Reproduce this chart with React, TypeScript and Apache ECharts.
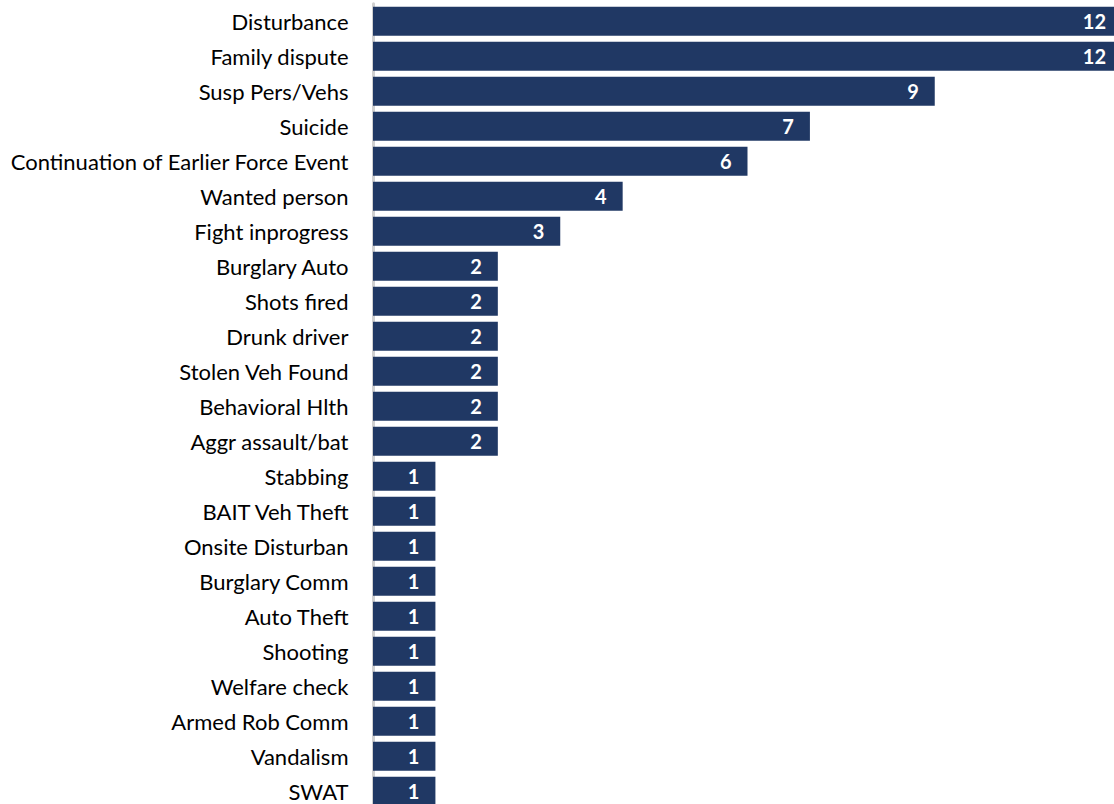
import React, { useEffect, useRef } from "react";
import * as echarts from "echarts";

const categories = [
  "Disturbance",
  "Family dispute",
  "Susp Pers/Vehs",
  "Suicide",
  "Continuation of Earlier Force Event",
  "Wanted person",
  "Fight inprogress",
  "Burglary Auto",
  "Shots fired",
  "Drunk driver",
  "Stolen Veh Found",
  "Behavioral Hlth",
  "Aggr assault/bat",
  "Stabbing",
  "BAIT Veh Theft",
  "Onsite Disturban",
  "Burglary Comm",
  "Auto Theft",
  "Shooting",
  "Welfare check",
  "Armed Rob Comm",
  "Vandalism",
  "SWAT",
];

const counts = [12, 12, 9, 7, 6, 4, 3, 2, 2, 2, 2, 2, 2, 1, 1, 1, 1, 1, 1, 1, 1, 1, 1];

export default function App() {
  const ref = useRef<HTMLDivElement>(null);
  useEffect(() => {
    if (!ref.current) return;
    const chart = echarts.init(ref.current, null, { renderer: "svg" });
    chart.setOption({
      animation: false,
      backgroundColor: "#ffffff",
      grid: { left: 373, top: 3.7, width: 749, height: 805, containLabel: false },
      xAxis: {
        type: "value",
        min: 0,
        max: 12,
        show: false,
      },
      yAxis: {
        type: "category",
        data: categories,
        inverse: true,
        offset: 1.5,
        axisLine: { show: true, lineStyle: { color: "#d0d0d0", width: 3 } },
        axisTick: { show: false },
        axisLabel: {
          margin: 23,
          color: "#000000",
          fontFamily: "Lato",
          fontSize: 22,
        },
      },
      series: [
        {
          type: "bar",
          data: counts,
          barWidth: 29,
          itemStyle: { color: "#203864" },
          label: {
            show: true,
            position: "insideRight",
            distance: 16,
            color: "#ffffff",
            fontFamily: "Lato",
            fontWeight: "bold",
            fontSize: 20,
          },
        },
      ],
    });
    return () => chart.dispose();
  }, []);
  return (
    <div
      ref={ref}
      style={{ position: "fixed", left: 0, top: 0, width: 1122, height: 812 }}
    />
  );
}
